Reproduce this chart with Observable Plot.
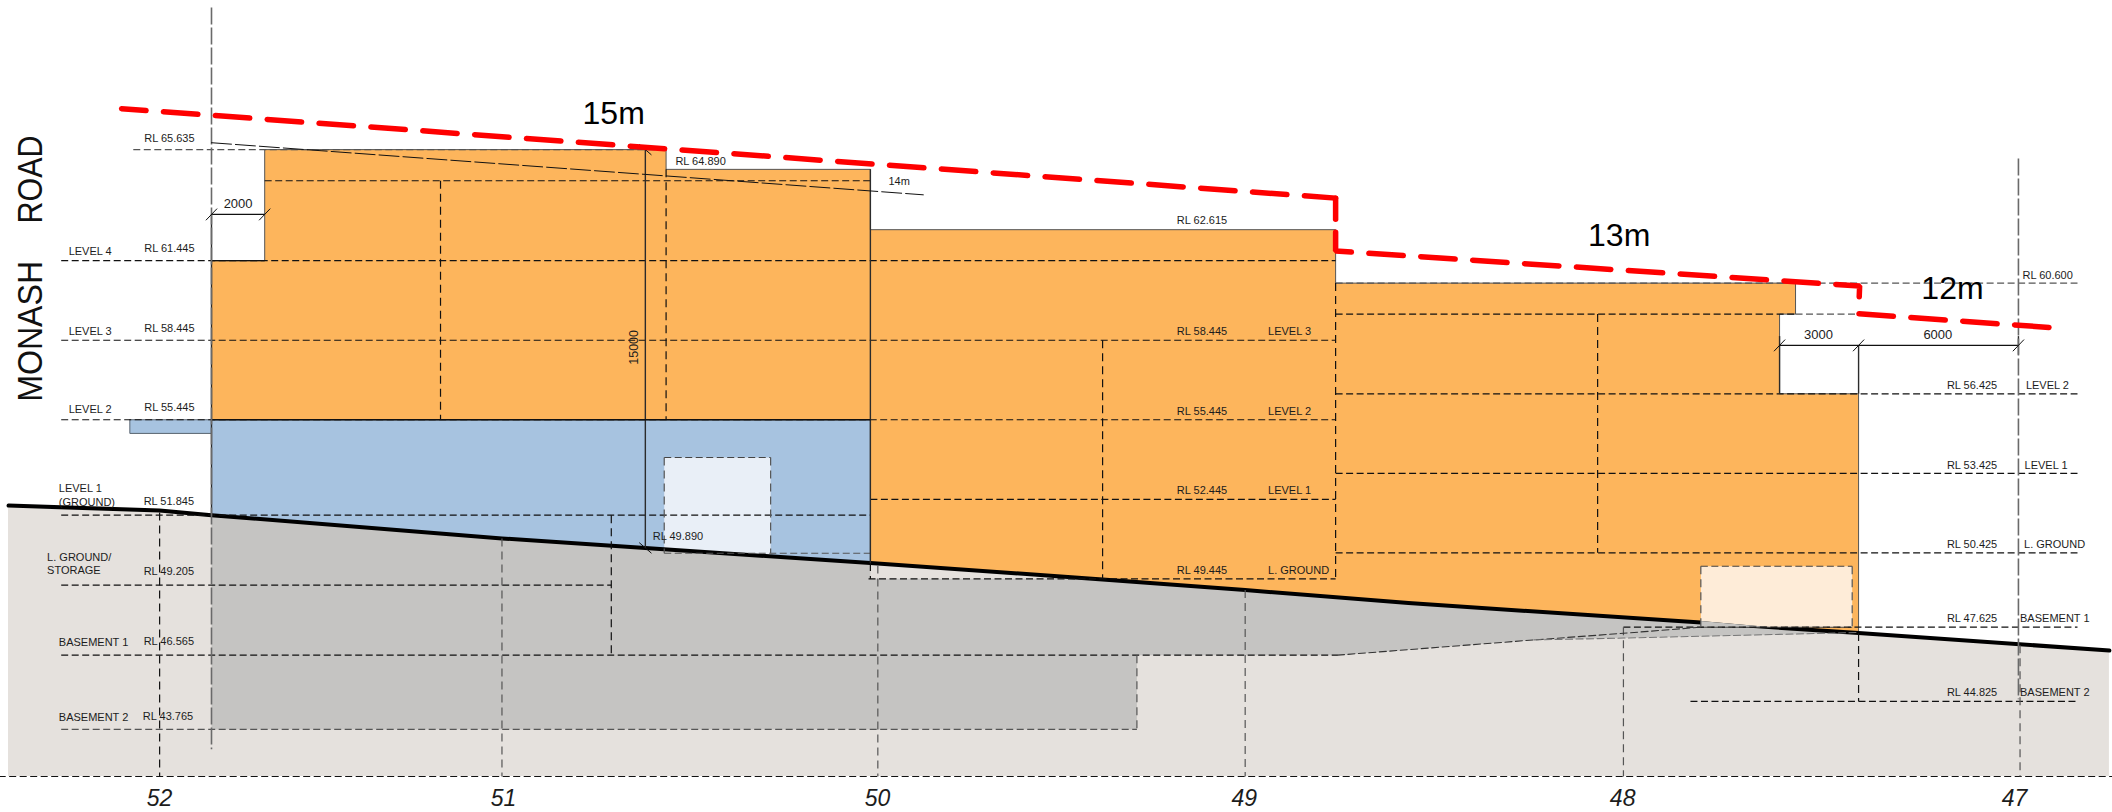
<!DOCTYPE html>
<html><head><meta charset="utf-8">
<script src="https://cdn.jsdelivr.net/npm/d3@7"></script>
<script src="https://cdn.jsdelivr.net/npm/@observablehq/plot@0.6"></script>
<style>html,body{margin:0;padding:0;background:#fff}svg{display:block}</style>
</head><body><div id="chart"></div>
<script>
// x = metres along the section from the western boundary, y = reduced level (RL, metres)
const groundLine = [[-7.63,52.207],[-1.95,52.02],[0,51.845],[10.92,50.97],[16.31,50.61],[24.77,50.04],[33.5,49.42],[38.86,49.02],[45,48.53],[61.92,47.4],[71.35,46.74]];
const siteBottom = 41.988;
const basementOutline = [[0,51.845],[10.92,50.97],[16.31,50.61],[24.77,50.04],[33.5,49.42],[38.86,49.02],[45,48.53],[61.92,47.4],[53.08,47.21],[49.72,47.14],[42.33,46.565],[34.79,46.565],[34.79,43.765],[0,43.765]];
const undercroftPatch = [[24.77,50.04],[31.6,49.55],[31.6,49.445],[24.77,49.445]];
const podium = [[0,55.445],[24.77,55.445],[24.77,50.04],[16.31,50.61],[10.92,50.97],[0,51.845],[0,55.445]];
const balcony = [[-3.07,55.445],[0,55.445],[0,54.93],[-3.07,54.93],[-3.07,55.445]];
const voidBlue = [[17.02,54.02],[21.02,54.02],[21.02,50.3],[17.02,50.56]];
const voidOrange = [[55.99,49.92],[61.68,49.92],[61.68,47.62],[58.65,47.62],[55.99,47.856]];
const voidWedge = [[55.99,47.856],[58.65,47.62],[55.99,47.62]];
const building = [[0,55.445],[0,61.445],[2,61.445],[2,65.635],[17.09,65.635],[17.09,64.89],[24.77,64.89],[24.77,62.615],[42.26,62.615],[42.26,60.6],[59.55,60.6],[59.55,59.43],[58.95,59.43],[58.95,56.425],[61.92,56.425],[61.92,47.4],[45,48.53],[38.86,49.02],[33.5,49.42],[24.77,50.04],[24.77,55.445],[0,55.445]];

const darkDashH = [[-5.65,42.26,61.445],[-5.65,42.26,58.445],[-5.65,42.26,55.445],[2,24.77,64.46],[-5.65,24.77,51.845],[-5.65,15.03,49.205],[-5.65,42.33,46.565],[24.77,42.26,52.445],[24.7,42.26,49.445],[42.26,59.55,59.43],[42.26,70.15,56.425],[42.26,70.15,53.425],[42.26,70.15,50.425],[53.08,70.15,47.625],[55.6,70.15,44.825],[-8,71.47,41.988]];
const greyDashH = [[-5.65,34.79,43.765],[-2.94,17.09,65.635],[42.26,70.15,60.6],[59.55,61.92,59.43],[17.02,24.77,50.41]];
const darkDashV = [[-1.95,51.95,41.988],[8.61,64.46,55.445],[17.09,64.89,55.445],[33.5,58.445,49.445],[42.26,60.6,49.445],[52.11,59.43,50.425],[15.03,51.845,46.565],[61.92,47.4,44.825],[24.77,50.04,49.445]];
const greyDashV = [[10.92,50.97,41.988],[25.05,49.95,41.988],[38.86,49.02,41.988],[53.08,47.62,41.988],[67.99,46.94,41.988],[34.79,46.565,43.765],[17.02,54.02,50.41],[21.02,54.02,50.41],[55.99,49.92,47.62],[61.68,49.92,47.62]];
const voidEdgesH = [[17.02,21.02,54.02],[55.99,61.68,49.92],[55.99,61.68,47.62]];
const datumSlope = [[0,65.895],[16.31,64.7],[26.76,63.93]];
const shallowRise = [[42.33,46.565],[49.72,47.14],[53.08,47.39],[55.99,47.62]];
const shallowGrey = [[49.72,47.14],[53.08,47.21],[61.92,47.42]];
const gridLongDash = [[0,71,43.02],[67.93,65.3,44.9]];
const solidV = [[24.77,64.89,50.04],[16.31,65.635,50.61],[0,63.19,61.445],[0,61.445,51.845],[61.92,58.25,56.425],[58.95,58.6,56.425],[67.93,58.6,57.9]];
const solidH = [[0,24.77,55.445],[0,2,61.445],[0,2,63.19],[58.95,67.93,58.25]];
const slashes = [[0,63.19],[2,63.19],[58.95,58.25],[61.92,58.25],[67.93,58.25]];
const backslashes = [[16.31,65.635],[16.31,50.61]];
const envelopeA = [[-3.38,67.18],[42.26,63.805]];
const envelopeDrop = [[42.26,63.805],[42.26,63.01]];
const envelopeB = [[42.26,62.59],[42.26,61.81],[61.96,60.49],[61.92,59.445],[69.47,58.9]];

const smallLabels = [
 ["RL 65.635",-2.53,65.906],["RL 61.445",-2.53,61.758],["RL 58.445",-2.53,58.741],["RL 55.445",-2.53,55.763],
 ["RL 51.845",-2.55,52.218],["RL 49.205",-2.55,49.578],["RL 46.565",-2.55,46.965],["RL 43.765",-2.58,44.137],
 ["LEVEL 4",-5.37,61.645],["LEVEL 3",-5.37,58.628],["LEVEL 2",-5.37,55.687],["LEVEL 1",-5.74,52.708],["(GROUND)",-5.74,52.207],
 ["L. GROUND/",-6.18,50.133],["STORAGE",-6.18,49.643],["BASEMENT 1",-5.74,46.901],["BASEMENT 2",-5.74,44.073],
 ["RL 64.890",17.44,65.065],["14m",25.45,64.284],["RL 62.615",36.29,62.814],
 ["RL 58.445",36.29,58.628],["LEVEL 3",39.72,58.628],["RL 55.445",36.29,55.612],["LEVEL 2",39.72,55.612],
 ["RL 52.445",36.29,52.632],["LEVEL 1",39.72,52.632],["RL 49.445",36.29,49.616],["L. GROUND",39.72,49.616],
 ["RL 49.890",16.59,50.898],["RL 60.600",68.08,60.751],
 ["RL 56.425",65.24,56.592],["LEVEL 2",68.21,56.592],["RL 53.425",65.24,53.576],["LEVEL 1",68.16,53.576],
 ["RL 50.425",65.24,50.597],["L. GROUND",68.14,50.597],["RL 47.625",65.24,47.806],["BASEMENT 1",67.99,47.806],
 ["RL 44.825",65.24,45.016],["BASEMENT 2",67.99,45.016]];
const dimLabels = [["2000",1,63.444],["3000",60.41,58.504],["6000",64.9,58.504]];
const heightLabels = [["15m",15.12,66.611],["13m",52.92,61.984],["12m",65.45,59.986]];
const gridLabels = [["52",-1.95],["51",10.98],["50",25.04],["49",38.83],["48",53.05],["47",67.78]];
const gridLabelRL = 40.868;
const roadLabels = [["ROAD",-6.38,64.51],["MONASH",-6.38,58.78]];
const dimHeight = [["15000",16.03,58.176]];

const xp = d => d[0], yp = d => d[1];
const fillPoly = (pts, fill) => Plot.line(pts, {x:xp, y:yp, fill, stroke:"none"});
const hLinks = (rows, o) => Plot.link(rows, {x1:d=>d[0], x2:d=>d[1], y1:d=>d[2], y2:d=>d[2], ...o});
const vLinks = (rows, o) => Plot.link(rows, {x1:d=>d[0], x2:d=>d[0], y1:d=>d[1], y2:d=>d[2], ...o});
const FONT = "Liberation Sans, Arial, Helvetica, sans-serif";
const txt = (rows, size, o={}) => Plot.text(rows, {text:d=>d[0], x:d=>d[1], y:d=>d[2], fontSize:size, fontFamily:FONT, fill:"#1c1c1c", lineAnchor:"bottom", ...o});
const DASH = "7 3.5";
const RED = "#fe0000";

const plot = Plot.plot({
  width:2112, height:812, margin:0,
  style:{background:"#fff", overflow:"hidden"},
  x:{domain:[-7.932,71.466], range:[0,2112], axis:null},
  y:{domain:[40.63,71.26], range:[812,0], axis:null},
  marks:[
    Plot.areaY(groundLine, {x:xp, y1:siteBottom, y2:yp, fill:"#e5e1dd"}),
    fillPoly(basementOutline, "#c5c4c2"),
    fillPoly(undercroftPatch, "#e5e1dd"),
    fillPoly(podium, "#a7c3e0"),
    Plot.line(balcony, {x:xp, y:yp, fill:"#a7c3e0", stroke:"#5a6470", strokeWidth:1}),
    fillPoly(voidBlue, "#e9eff7"),
    Plot.line(building, {x:xp, y:yp, fill:"#fdb55c", stroke:"#555", strokeWidth:1}),
    Plot.line(groundLine, {x:xp, y:yp, stroke:"#000", strokeWidth:4}),
    fillPoly(voidOrange, "#feecd8"),
    fillPoly(voidWedge, "#c5c4c2"),
    hLinks(greyDashH, {stroke:"#555", strokeWidth:1.1, strokeDasharray:DASH}),
    hLinks(voidEdgesH, {stroke:"#444", strokeWidth:1.1, strokeDasharray:DASH}),
    hLinks(darkDashH, {stroke:"#111", strokeWidth:1.2, strokeDasharray:DASH}),
    vLinks(darkDashV, {stroke:"#111", strokeWidth:1.2, strokeDasharray:"8 5"}),
    vLinks(greyDashV, {stroke:"#555", strokeWidth:1.2, strokeDasharray:"8 5"}),
    vLinks(solidV, {stroke:"#2b2b2b", strokeWidth:1.4}),
    hLinks(solidH, {stroke:"#111", strokeWidth:1.3}),
    vLinks(gridLongDash, {stroke:"#6a6a6a", strokeWidth:1.6, strokeDasharray:"17 3"}),
    Plot.line(datumSlope, {x:xp, y:yp, stroke:"#111", strokeWidth:1, strokeDasharray:"20 4"}),
    Plot.line(shallowRise, {x:xp, y:yp, stroke:"#333", strokeWidth:1.1, strokeDasharray:DASH}),
    Plot.line(shallowGrey, {x:xp, y:yp, stroke:"#777", strokeWidth:1.1, strokeDasharray:DASH}),
    Plot.link(slashes, {x1:d=>d[0]-0.21, x2:d=>d[0]+0.21, y1:d=>d[1]-0.22, y2:d=>d[1]+0.22, stroke:"#111", strokeWidth:1}),
    Plot.link(backslashes, {x1:d=>d[0]-0.23, x2:d=>d[0]+0.23, y1:d=>d[1]+0.2, y2:d=>d[1]-0.2, stroke:"#111", strokeWidth:1}),
    Plot.line(envelopeA, {x:xp, y:yp, stroke:RED, strokeWidth:5.5, strokeLinecap:"round", strokeLinejoin:"miter", strokeDasharray:"34.5 17.5", strokeDashoffset:10}),
    Plot.line(envelopeDrop, {x:xp, y:yp, stroke:RED, strokeWidth:5.5, strokeLinecap:"round"}),
    Plot.line(envelopeB, {x:xp, y:yp, stroke:RED, strokeWidth:5.5, strokeLinecap:"round", strokeLinejoin:"miter", strokeDasharray:"34.5 17.5", strokeDashoffset:-2}),
    txt(smallLabels, 11, {textAnchor:"start"}),
    txt(dimLabels, 13, {textAnchor:"middle"}),
    txt(heightLabels, 32, {textAnchor:"middle", fill:"#000"}),
    txt(roadLabels, 35, {textAnchor:"middle", rotate:-90, fill:"#111", className:"road"}),
    txt(dimHeight, 12.5, {textAnchor:"middle", rotate:-90}),
    Plot.text(gridLabels, {text:d=>d[0], x:d=>d[1], y:gridLabelRL, fontSize:23, fontStyle:"italic", fontFamily:FONT, fill:"#1c1c1c", lineAnchor:"bottom", textAnchor:"middle"})
  ]
});
d3.select(plot).selectAll("text").filter(function(){return this.textContent==="ROAD"}).attr("textLength",88).attr("lengthAdjust","spacingAndGlyphs");
d3.select(plot).selectAll("text").filter(function(){return this.textContent==="MONASH"}).attr("textLength",141).attr("lengthAdjust","spacingAndGlyphs");
document.getElementById("chart").append(plot);
</script></body></html>
